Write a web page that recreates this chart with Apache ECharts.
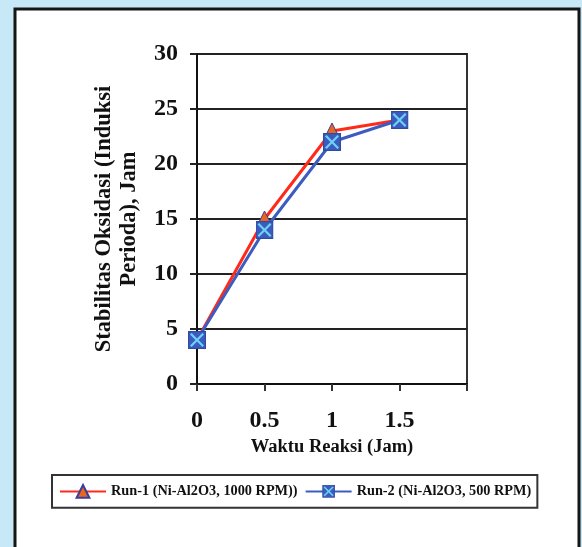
<!DOCTYPE html>
<html>
<head>
<meta charset="utf-8">
<script src="https://cdn.jsdelivr.net/npm/echarts@6/dist/echarts.min.js"></script>
<style>
html,body{margin:0;padding:0;background:#c6e8f7;}
#c{width:582px;height:547px;}
</style>
</head>
<body>
<div id="c"></div>
<script>
var categories = ['0', '0.5', '1', '1.5', ''];
var run1 = [4, 15, 23, 24];
var run2 = [4, 14, 22, 24];
var seriesNames = ['Run-1 (Ni-Al2O3, 1000 RPM))', 'Run-2 (Ni-Al2O3, 500 RPM)'];
var xTitle = 'Waktu Reaksi (Jam)';
var yTitle = 'Stabilitas Oksidasi (Induksi\nPerioda), Jam';

var sqSvg = '<svg xmlns="http://www.w3.org/2000/svg" width="32" height="32" viewBox="0 0 32 32">' +
  '<rect x="1" y="1" width="30" height="30" fill="#3a5cbf" stroke="#2f4aa0" stroke-width="2"/>' +
  '<path d="M5 5 L27 27 M27 5 L5 27" stroke="#6fd0f5" stroke-width="4"/></svg>';
var sqSymbol = 'image://data:image/svg+xml;charset=utf-8,' + encodeURIComponent(sqSvg);

var serif = '"Liberation Serif", "Times New Roman", serif';
var chart = echarts.init(document.getElementById('c'), null, {renderer: 'canvas'});
chart.setOption({
  backgroundColor: '#c6e8f7',
  animation: false,
  graphic: [{
    type: 'rect', z: -10,
    shape: {x: 15, y: 9, width: 564, height: 560},
    style: {fill: '#ffffff', stroke: '#151515', lineWidth: 3}
  }],
  grid: {left: 197, top: 54, width: 270, height: 330, show: true, borderColor: '#333', borderWidth: 2, backgroundColor: 'transparent'},
  legend: {
    left: 52, top: 475, width: 487, height: 36,
    padding: [9, 6, 9, 7],
    itemWidth: 46, itemGap: 7, itemHeight: 16,
    borderColor: '#333', borderWidth: 2,
    textStyle: {fontFamily: serif, fontWeight: 'bold', fontSize: 14.3, color: '#111'},
    data: seriesNames
  },
  xAxis: {
    type: 'category', data: categories, boundaryGap: false,
    name: xTitle, nameLocation: 'middle', nameGap: 54,
    nameTextStyle: {fontFamily: serif, fontWeight: 'bold', fontSize: 18.5, color: '#111'},
    axisLine: {lineStyle: {color: '#111', width: 2}},
    axisTick: {show: true, inside: false, length: 7, lineStyle: {color: '#333', width: 2}, alignWithLabel: true},
    axisLabel: {fontFamily: serif, fontWeight: 'bold', fontSize: 24, color: '#111', margin: 25, interval: 0},
    splitLine: {show: false}
  },
  yAxis: {
    type: 'value', min: 0, max: 30, interval: 5,
    name: yTitle, nameLocation: 'middle', nameGap: 55, nameRotate: 90,
    nameTextStyle: {fontFamily: serif, fontWeight: 'bold', fontSize: 22.5, color: '#111', lineHeight: 25, align: 'center'},
    axisLine: {show: true, lineStyle: {color: '#111', width: 2}},
    axisTick: {show: true, length: 7, lineStyle: {color: '#222', width: 2}},
    axisLabel: {fontFamily: serif, fontWeight: 'bold', fontSize: 24, color: '#111', margin: 19},
    splitLine: {show: true, lineStyle: {color: '#222', width: 2}}
  },
  series: [{
    name: seriesNames[0], type: 'line', data: run1,
    symbol: 'triangle', symbolSize: 16,
    lineStyle: {color: '#ff2a1a', width: 3},
    itemStyle: {color: '#e8661e', borderColor: '#3c3d9a', borderWidth: 1}
  }, {
    name: seriesNames[1], type: 'line', data: run2,
    symbol: sqSymbol, symbolSize: 18,
    lineStyle: {color: '#3d5cc0', width: 3},
    itemStyle: {color: '#3a5cbf'}
  }]
});
</script>
</body>
</html>
